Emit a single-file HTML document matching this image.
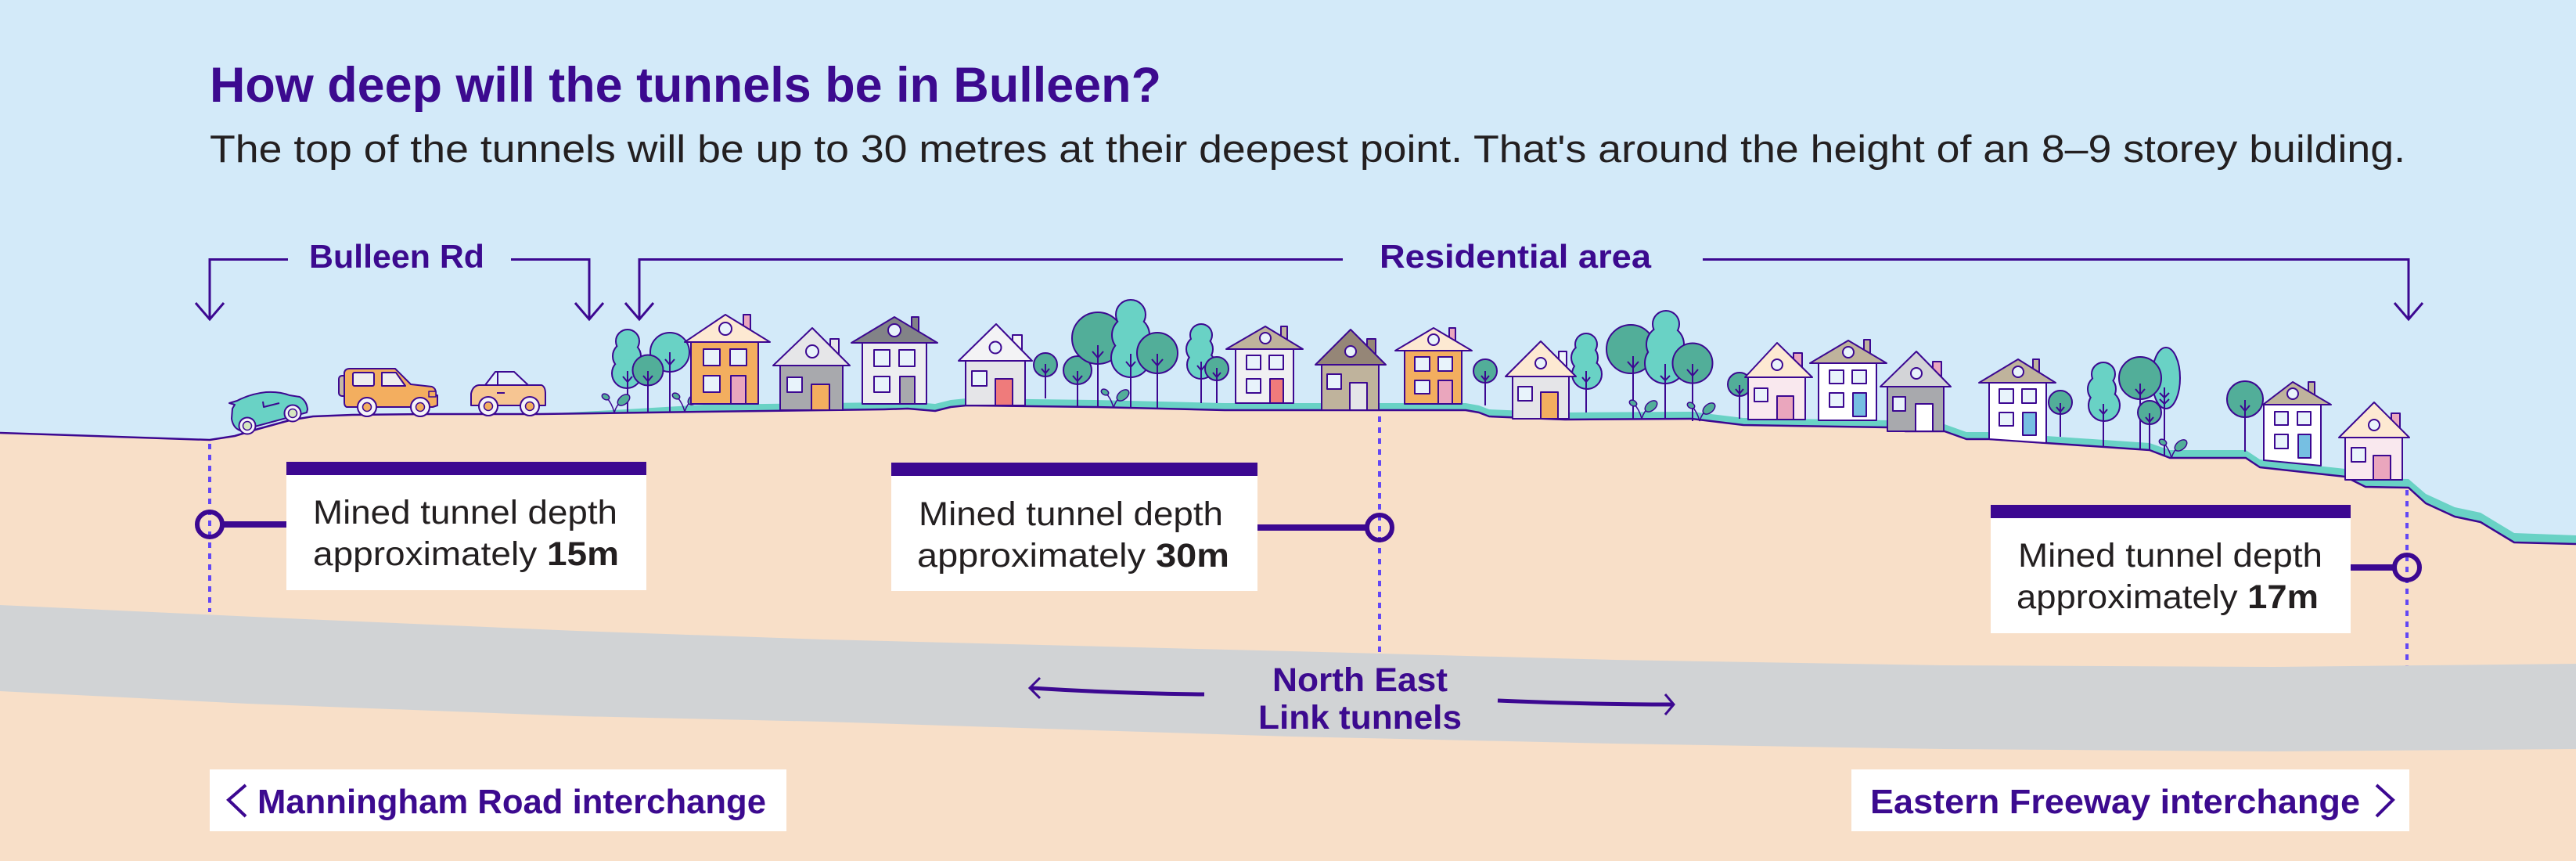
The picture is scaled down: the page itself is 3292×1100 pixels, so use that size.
<!DOCTYPE html>
<html>
<head>
<meta charset="utf-8">
<style>
html,body{margin:0;padding:0;background:#d3eaf9;}
svg{display:block;}
text{font-family:"Liberation Sans",Arial,sans-serif;}
</style>
</head>
<body>
<svg width="3292" height="1100" viewBox="0 0 3292 1100" xmlns="http://www.w3.org/2000/svg">
<!-- sky -->
<rect x="0" y="0" width="3292" height="1100" fill="#d3eaf9"/>

<!-- grass -->
<polygon fill="#69d2c5" points="690,529 800,523 900,517 1130,514 1160,513 1195,516 1215,511 1235,509 1400,511 1565,515 1873,515 1890,518 1903,523 1950,525 2000,527 2162,526 2228,534 2412,537 2435,542 2485,542 2513,552 2542,552 2615,557 2747,566 2773,575 2870,575 2888,587 2997,599 3023,611 3078,612 3100,631 3137,648 3170,655 3213,681 3292,684 3292,720 690,560"/>

<!-- ground -->
<polygon fill="#f8dfc8" points="0,553 268,562 300,557 330,548 370,537 400,532 450,530 550,529 690,529 900,526 1130,523 1160,522 1195,525 1215,520 1235,518 1400,520 1565,524 1873,524 1890,527 1903,532 1950,534 2000,536 2162,535 2228,543 2412,546 2435,551 2485,551 2513,561 2542,561 2615,566 2747,575 2773,585 2870,585 2888,597 2997,609 3023,622 3078,623 3100,643 3137,660 3170,667 3213,693 3292,695 3292,1100 0,1100"/>
<polyline fill="none" stroke="#3c0891" stroke-width="2.5" stroke-linejoin="round" points="0,553 268,562 300,557 330,548 370,537 400,532 450,530 550,529 690,529 900,526 1130,523 1160,522 1195,525 1215,520 1235,518 1400,520 1565,524 1873,524 1890,527 1903,532 1950,534 2000,536 2162,535 2228,543 2412,546 2435,551 2485,551 2513,561 2542,561 2615,566 2747,575 2773,585 2870,585 2888,597 2997,609 3023,622 3078,623 3100,643 3137,660 3170,667 3213,693 3292,695"/>

<!-- dashed depth lines -->
<g stroke="#6247f5" stroke-width="4" stroke-dasharray="7 7" fill="none">
<line x1="268" y1="567" x2="268" y2="782"/>
<line x1="1763" y1="532" x2="1763" y2="838"/>
<line x1="3076" y1="626" x2="3076" y2="852"/>
</g>

<!-- tunnel band -->
<polygon fill="#d1d3d5" points="0,773 368,790 737,806 1053,817 1650,832 2063,843 2484,850 2905,852 3292,848 3292,957 2905,960 2484,957 2063,950 1650,941 1053,922 737,915 316,899 0,883"/>

<!-- brackets -->
<g stroke="#3c0891" stroke-width="3" fill="none" stroke-linejoin="miter">
<polyline points="368,331.5 268,331.5 268,406"/>
<polyline points="250,387 268,408 286,387"/>
<polyline points="653,331.5 753,331.5 753,406"/>
<polyline points="735,387 753,408 771,387"/>
<polyline points="1716,331.5 817,331.5 817,406"/>
<polyline points="799,387 817,408 835,387"/>
<polyline points="2176,331.5 3078,331.5 3078,406"/>
<polyline points="3060,387 3078,408 3096,387"/>
</g>

<!-- text -->
<text x="268" y="130" font-size="63" font-weight="700" fill="#3c0a8f" textLength="1216" lengthAdjust="spacingAndGlyphs">How deep will the tunnels be in Bulleen?</text>
<text x="268" y="207" font-size="49" fill="#231f20" textLength="2806" lengthAdjust="spacingAndGlyphs">The top of the tunnels will be up to 30 metres at their deepest point. That's around the height of an 8–9 storey building.</text>
<text x="395" y="342" font-size="42" font-weight="700" fill="#3c0a8f" textLength="224" lengthAdjust="spacingAndGlyphs">Bulleen Rd</text>
<text x="1763" y="342" font-size="42" font-weight="700" fill="#3c0a8f" textLength="347" lengthAdjust="spacingAndGlyphs">Residential area</text>

<!-- cars -->
<g stroke="#3c0891" stroke-width="2" stroke-linejoin="round">
<!-- teal car -->
<path fill="#69d2c5" d="M293,515 L303,512 Q320,503 340,501 Q357,500 370,505 L383,507 Q392,512 393,523 L392,527 L307,550 Q298,547 296,535 L297,522 L300,517 Z"/>
<polyline fill="none" points="336,513 337,520 357,515"/>
<circle cx="316" cy="544" r="10.5" fill="#f5f3f8"/>
<circle cx="316" cy="544" r="5.5" fill="#d7e8c0" stroke-width="1.5"/>
<circle cx="374" cy="528" r="10.5" fill="#f5f3f8"/>
<circle cx="374" cy="528" r="5.5" fill="#d7e8c0" stroke-width="1.5"/>
<!-- orange suv -->
<rect x="433" y="480" width="10" height="26" rx="4" fill="#c6b8a4"/>
<path fill="#f3ae5f" d="M447,471 L505,471 L525,491 L552,494 Q557,496 557,502 L557,505 L559,505 L559,518 L553,520 L443,520 Q440,519 440,514 L440,476 Q441,471 447,471 Z"/>
<rect x="451" y="476" width="27" height="17" rx="2" fill="#eeeeef"/>
<polygon points="488,476 506,476 518,493 488,493" fill="#eeeeef"/>
<rect x="548" y="500" width="9" height="7" fill="#f3ae5f" stroke-width="1.5"/>
<circle cx="469" cy="520" r="12" fill="#f5f3f8"/>
<circle cx="469" cy="520" r="5.5" fill="#f3ae5f" stroke-width="1.5"/>
<circle cx="537" cy="520" r="12" fill="#f5f3f8"/>
<circle cx="537" cy="520" r="5.5" fill="#f3ae5f" stroke-width="1.5"/>
<!-- peach car -->
<polygon points="620,492 633,475 657,475 675,492" fill="#e3f0fa"/>
<line x1="636" y1="476" x2="636" y2="492"/>
<path fill="#f6c592" d="M602,518 L602,503 Q604,493 612,492 L692,492 Q697,494 697,503 L697,518 Z"/>
<line x1="635" y1="502" x2="645" y2="502"/>
<circle cx="624" cy="519" r="12" fill="#f5f3f8"/>
<circle cx="624" cy="519" r="5.5" fill="#f3ae5f" stroke-width="1.5"/>
<circle cx="677" cy="519" r="12" fill="#f5f3f8"/>
<circle cx="677" cy="519" r="5.5" fill="#f3ae5f" stroke-width="1.5"/>
</g>

<!-- trees -->
<g stroke="#3c0891" stroke-width="2" fill="none">
<!-- T1 bumpy teal -->
<g><circle cx="802" cy="436" r="14" fill="#69d2c5" stroke-width="4"/><circle cx="801" cy="455" r="17" fill="#69d2c5" stroke-width="4"/><circle cx="801" cy="477" r="18" fill="#69d2c5" stroke-width="4"/>
<circle cx="802" cy="436" r="14" fill="#69d2c5" stroke="none"/><circle cx="801" cy="455" r="17" fill="#69d2c5" stroke="none"/><circle cx="801" cy="477" r="18" fill="#69d2c5" stroke="none"/></g>
<line x1="802" y1="474" x2="802" y2="527"/><polyline points="796,481 802,488 808,481"/>
<!-- T3 -->
<circle cx="856" cy="450" r="25" fill="#69d2c5"/>
<line x1="856" y1="450" x2="856" y2="526"/><polyline points="850,459 856,466 862,459"/>
<!-- T2 -->
<circle cx="828" cy="473" r="19.5" fill="#52ae99"/>
<line x1="828" y1="474" x2="828" y2="526"/><polyline points="822,480 828,487 834,480"/>

<!-- T4..T10 -->
<circle cx="1336" cy="466" r="15" fill="#52ae99"/>
<line x1="1336" y1="465" x2="1336" y2="509"/><polyline points="1331,471 1336,477 1341,471"/>
<circle cx="1377" cy="473" r="18" fill="#52ae99"/>
<line x1="1377" y1="474" x2="1377" y2="520"/><polyline points="1371,480 1377,487 1383,480"/>
<circle cx="1403" cy="432" r="33" fill="#52ae99"/>
<line x1="1403" y1="441" x2="1403" y2="520"/><polyline points="1396,449 1403,457 1410,449"/>
<g><circle cx="1445" cy="402" r="18" fill="#69d2c5" stroke-width="4"/><circle cx="1445" cy="428" r="23" fill="#69d2c5" stroke-width="4"/><circle cx="1445" cy="457" r="24" fill="#69d2c5" stroke-width="4"/>
<circle cx="1445" cy="402" r="18" fill="#69d2c5" stroke="none"/><circle cx="1445" cy="428" r="23" fill="#69d2c5" stroke="none"/><circle cx="1445" cy="457" r="24" fill="#69d2c5" stroke="none"/></g>
<line x1="1445" y1="452" x2="1445" y2="521"/><polyline points="1439,462 1445,469 1451,462"/>
<circle cx="1479" cy="451" r="26" fill="#52ae99"/>
<line x1="1479" y1="452" x2="1479" y2="523"/><polyline points="1472,459 1479,467 1486,459"/>
<g><circle cx="1535" cy="428" r="13" fill="#69d2c5" stroke-width="4"/><circle cx="1533" cy="446" r="16" fill="#69d2c5" stroke-width="4"/><circle cx="1535" cy="466" r="17" fill="#69d2c5" stroke-width="4"/>
<circle cx="1535" cy="428" r="13" fill="#69d2c5" stroke="none"/><circle cx="1533" cy="446" r="16" fill="#69d2c5" stroke="none"/><circle cx="1535" cy="466" r="17" fill="#69d2c5" stroke="none"/></g>
<line x1="1535" y1="462" x2="1535" y2="515"/><polyline points="1530,467 1535,473 1540,467"/>
<circle cx="1555" cy="471" r="15" fill="#52ae99"/>
<line x1="1555" y1="470" x2="1555" y2="515"/><polyline points="1550,476 1555,482 1560,476"/>

<!-- T11 -->
<circle cx="1898" cy="474" r="15" fill="#52ae99"/>
<line x1="1898" y1="474" x2="1898" y2="518"/><polyline points="1893,480 1898,486 1903,480"/>

<!-- T12..T16 -->
<g><circle cx="2027" cy="440" r="13" fill="#69d2c5" stroke-width="4"/><circle cx="2025" cy="457" r="16" fill="#69d2c5" stroke-width="4"/><circle cx="2028" cy="478" r="18" fill="#69d2c5" stroke-width="4"/>
<circle cx="2027" cy="440" r="13" fill="#69d2c5" stroke="none"/><circle cx="2025" cy="457" r="16" fill="#69d2c5" stroke="none"/><circle cx="2028" cy="478" r="18" fill="#69d2c5" stroke="none"/></g>
<line x1="2027" y1="474" x2="2027" y2="527"/><polyline points="2022,482 2027,488 2032,482"/>
<circle cx="2084" cy="446" r="31" fill="#52ae99"/>
<line x1="2087" y1="455" x2="2087" y2="535"/><polyline points="2080,462 2087,470 2094,462"/>
<g><circle cx="2129" cy="414" r="16" fill="#69d2c5" stroke-width="4"/><circle cx="2128" cy="440" r="23" fill="#69d2c5" stroke-width="4"/><circle cx="2128" cy="464" r="25" fill="#69d2c5" stroke-width="4"/>
<circle cx="2129" cy="414" r="16" fill="#69d2c5" stroke="none"/><circle cx="2128" cy="440" r="23" fill="#69d2c5" stroke="none"/><circle cx="2128" cy="464" r="25" fill="#69d2c5" stroke="none"/></g>
<line x1="2128" y1="465" x2="2128" y2="536"/><polyline points="2122,480 2128,486 2134,480"/>
<circle cx="2163" cy="464" r="25.5" fill="#52ae99"/>
<line x1="2163" y1="465" x2="2163" y2="538"/><polyline points="2156,472 2163,480 2170,472"/>
<circle cx="2223" cy="491" r="15" fill="#52ae99"/>
<line x1="2223" y1="492" x2="2223" y2="535"/><polyline points="2218,497 2223,503 2228,497"/>

<!-- T17..T22 -->
<circle cx="2633" cy="514" r="15" fill="#52ae99"/>
<line x1="2633" y1="515" x2="2633" y2="558"/><polyline points="2628,520 2633,526 2638,520"/>
<g><circle cx="2688" cy="478" r="14" fill="#69d2c5" stroke-width="4"/><circle cx="2686" cy="497" r="17" fill="#69d2c5" stroke-width="4"/><circle cx="2689" cy="518" r="19" fill="#69d2c5" stroke-width="4"/>
<circle cx="2688" cy="478" r="14" fill="#69d2c5" stroke="none"/><circle cx="2686" cy="497" r="17" fill="#69d2c5" stroke="none"/><circle cx="2689" cy="518" r="19" fill="#69d2c5" stroke="none"/></g>
<line x1="2688" y1="516" x2="2688" y2="571"/><polyline points="2683,523 2688,529 2693,523"/>
<ellipse cx="2768" cy="483" rx="18" ry="39" fill="#69d2c5"/>
<line x1="2766" y1="495" x2="2766" y2="583"/><polyline points="2760,502 2766,508 2772,502"/><polyline points="2760,510 2766,516 2772,510"/>
<circle cx="2735" cy="483" r="27" fill="#52ae99"/>
<line x1="2735" y1="490" x2="2735" y2="574"/><polyline points="2729,497 2735,504 2741,497"/>
<circle cx="2747" cy="527" r="15" fill="#52ae99"/>
<line x1="2747" y1="528" x2="2747" y2="575"/><polyline points="2742,533 2747,539 2752,533"/>
<circle cx="2869" cy="510" r="23" fill="#52ae99"/>
<line x1="2869" y1="511" x2="2869" y2="577"/><polyline points="2863,518 2869,525 2875,518"/>
</g>

<!-- sprouts -->
<g stroke="#3c0891" stroke-width="1.5" fill="#52ae99">
<g transform="translate(785,527)"><path fill="none" d="M0,0 Q-3,-12 -10,-19 M0,0 Q3,-10 9,-14"/><ellipse cx="-11" cy="-20" rx="5" ry="3.5" transform="rotate(30 -11 -20)"/><ellipse cx="12" cy="-16" rx="9" ry="5.5" transform="rotate(-40 12 -16)"/></g>
<g transform="translate(875,526)"><path fill="none" d="M0,0 Q-3,-12 -10,-19 M0,0 Q3,-10 9,-14"/><ellipse cx="-11" cy="-20" rx="5" ry="3.5" transform="rotate(30 -11 -20)"/><ellipse cx="12" cy="-16" rx="9" ry="5.5" transform="rotate(-40 12 -16)"/></g>
<g transform="translate(1423,521)"><path fill="none" d="M0,0 Q-3,-12 -10,-19 M0,0 Q3,-10 9,-14"/><ellipse cx="-11" cy="-20" rx="5" ry="3.5" transform="rotate(30 -11 -20)"/><ellipse cx="12" cy="-16" rx="9" ry="5.5" transform="rotate(-40 12 -16)"/></g>
<g transform="translate(2098,535)"><path fill="none" d="M0,0 Q-3,-12 -10,-19 M0,0 Q3,-10 9,-14"/><ellipse cx="-11" cy="-20" rx="5" ry="3.5" transform="rotate(30 -11 -20)"/><ellipse cx="12" cy="-16" rx="9" ry="5.5" transform="rotate(-40 12 -16)"/></g>
<g transform="translate(2172,538)"><path fill="none" d="M0,0 Q-3,-12 -10,-19 M0,0 Q3,-10 9,-14"/><ellipse cx="-11" cy="-20" rx="5" ry="3.5" transform="rotate(30 -11 -20)"/><ellipse cx="12" cy="-16" rx="9" ry="5.5" transform="rotate(-40 12 -16)"/></g>
<g transform="translate(2775,585)"><path fill="none" d="M0,0 Q-3,-12 -10,-19 M0,0 Q3,-10 9,-14"/><ellipse cx="-11" cy="-20" rx="5" ry="3.5" transform="rotate(30 -11 -20)"/><ellipse cx="12" cy="-16" rx="9" ry="5.5" transform="rotate(-40 12 -16)"/></g>
</g>

<!-- houses -->
<g stroke="#3c0891" stroke-width="2" stroke-linejoin="round">
<!-- H1 -->
<rect x="950" y="402" width="9" height="24" fill="#eaa6bd"/>
<polygon points="875,437 927,402 984,437" fill="#fde9d2"/>
<circle cx="927" cy="420" r="8" fill="#e8f3fb"/>
<rect x="883" y="437" width="86" height="79" fill="#f3ae5f"/>
<rect x="899" y="446" width="21" height="21" fill="#e8f3fb"/><rect x="933" y="446" width="21" height="21" fill="#e8f3fb"/><rect x="899" y="480" width="21" height="21" fill="#e8f3fb"/>
<rect x="934" y="480" width="19" height="36" fill="#eaa6bd"/>
<!-- H2 -->
<rect x="1061" y="433" width="11" height="24" fill="#e6e6e8"/>
<polygon points="988,467 1038,419 1086,467" fill="#e6e6e8"/>
<circle cx="1038" cy="449" r="8" fill="#e8f3fb"/>
<rect x="997" y="467" width="80" height="57" fill="#a8a9ad"/>
<rect x="1006" y="482" width="19" height="19" fill="#e8f3fb"/>
<rect x="1037" y="491" width="23" height="33" fill="#f3ae5f"/>
<!-- H3 -->
<rect x="1165" y="405" width="9" height="24" fill="#828387"/>
<polygon points="1088,438 1143,405 1198,438" fill="#828387"/>
<circle cx="1143" cy="422" r="8" fill="#e8f3fb"/>
<rect x="1102" y="438" width="82" height="78" fill="#ededf0"/>
<rect x="1117" y="447" width="20" height="21" fill="#e8f3fb"/><rect x="1149" y="447" width="20" height="21" fill="#e8f3fb"/><rect x="1117" y="481" width="20" height="20" fill="#e8f3fb"/>
<rect x="1150" y="481" width="19" height="35" fill="#a8a9ad"/>
<!-- H4 -->
<rect x="1294" y="428" width="12" height="24" fill="#f3f3f5"/>
<polygon points="1225,461 1273,414 1319,461" fill="#f3f3f5"/>
<circle cx="1272" cy="444" r="7.5" fill="#e8f3fb"/>
<rect x="1234" y="461" width="76" height="57" fill="#e5e5e8"/>
<rect x="1242" y="474" width="19" height="19" fill="#e8f3fb"/>
<rect x="1272" y="484" width="22" height="34" fill="#ef7b7b"/>
<!-- H5 -->
<rect x="1637" y="417" width="8" height="20" fill="#bfb39c"/>
<polygon points="1567,446 1617,417 1665,446" fill="#bfb39c"/>
<circle cx="1617" cy="432" r="7" fill="#e8f3fb"/>
<rect x="1579" y="446" width="74" height="69" fill="#f0f0f2"/>
<rect x="1593" y="454" width="18" height="18" fill="#e8f3fb"/><rect x="1622" y="454" width="18" height="18" fill="#e8f3fb"/><rect x="1593" y="484" width="18" height="18" fill="#e8f3fb"/>
<rect x="1623" y="484" width="17" height="31" fill="#ef7b7b"/>
<!-- H6 -->
<rect x="1747" y="433" width="11" height="24" fill="#958677"/>
<polygon points="1681,466 1726,421 1771,466" fill="#958677"/>
<circle cx="1726" cy="449" r="7" fill="#e8f3fb"/>
<rect x="1689" y="466" width="73" height="58" fill="#bfb39c"/>
<rect x="1696" y="478" width="18" height="19" fill="#e8f3fb"/>
<rect x="1725" y="489" width="22" height="35" fill="#e5e5e8"/>
<!-- H7 -->
<rect x="1852" y="419" width="8" height="20" fill="#eaa6bd"/>
<polygon points="1783,448 1832,419 1881,448" fill="#fde9d2"/>
<circle cx="1832" cy="434" r="7" fill="#e8f3fb"/>
<rect x="1795" y="448" width="73" height="68" fill="#f3ae5f"/>
<rect x="1808" y="456" width="19" height="18" fill="#e8f3fb"/><rect x="1838" y="456" width="18" height="18" fill="#e8f3fb"/><rect x="1808" y="486" width="19" height="17" fill="#e8f3fb"/>
<rect x="1838" y="486" width="18" height="30" fill="#eaa6bd"/>
<!-- H8 -->
<rect x="1992" y="449" width="10" height="22" fill="#eef5fb"/>
<polygon points="1924,481 1969,436 2014,481" fill="#fde9d2"/>
<circle cx="1969" cy="464" r="7" fill="#e8f3fb"/>
<rect x="1933" y="481" width="72" height="54" fill="#e5e5e8"/>
<rect x="1940" y="494" width="18" height="18" fill="#e8f3fb"/>
<rect x="1969" y="501" width="22" height="34" fill="#f3ae5f"/>
<!-- H9 -->
<rect x="2292" y="451" width="11" height="22" fill="#eaa6bd"/>
<polygon points="2230,482 2271,438 2316,482" fill="#fde9d2"/>
<circle cx="2271" cy="466" r="7" fill="#e8f3fb"/>
<rect x="2234" y="482" width="73" height="54" fill="#f9e8ee"/>
<rect x="2242" y="496" width="17" height="17" fill="#e8f3fb"/>
<rect x="2271" y="506" width="21" height="30" fill="#eaa6bd"/>
<!-- H10 -->
<rect x="2382" y="434" width="8" height="20" fill="#bfb39c"/>
<polygon points="2313,464 2362,435 2411,464" fill="#bfb39c"/>
<circle cx="2362" cy="450" r="7" fill="#e8f3fb"/>
<rect x="2324" y="464" width="74" height="73" fill="#ffffff"/>
<rect x="2338" y="473" width="18" height="17" fill="#e8f3fb"/><rect x="2367" y="473" width="18" height="17" fill="#e8f3fb"/><rect x="2338" y="502" width="18" height="18" fill="#e8f3fb"/>
<rect x="2368" y="502" width="17" height="30" fill="#76bfe2"/>
<!-- H11 -->
<rect x="2470" y="462" width="11" height="22" fill="#eaa6bd"/>
<polygon points="2403,494 2449,449 2493,494" fill="#d3d4d7"/>
<circle cx="2449" cy="477" r="7" fill="#e8f3fb"/>
<rect x="2412" y="494" width="72" height="57" fill="#a8a9ad"/>
<rect x="2419" y="507" width="16" height="18" fill="#e8f3fb"/>
<rect x="2448" y="516" width="22" height="35" fill="#ffffff"/>
<!-- H12 -->
<rect x="2598" y="459" width="8" height="19" fill="#bfb39c"/>
<polygon points="2529,489 2579,459 2627,489" fill="#bfb39c"/>
<circle cx="2579" cy="475" r="7" fill="#e8f3fb"/>
<polygon points="2542,489 2615,489 2615,566 2542,561" fill="#ffffff"/>
<rect x="2555" y="497" width="18" height="18" fill="#e8f3fb"/><rect x="2584" y="497" width="18" height="18" fill="#e8f3fb"/><rect x="2555" y="527" width="18" height="17" fill="#e8f3fb"/>
<rect x="2585" y="527" width="17" height="29" fill="#76bfe2"/>
<!-- H13 -->
<rect x="2950" y="488" width="8" height="19" fill="#bfb39c"/>
<polygon points="2892,517 2930,488 2979,517" fill="#bfb39c"/>
<circle cx="2930" cy="503" r="7" fill="#e8f3fb"/>
<polygon points="2893,517 2966,517 2966,595 2893,588" fill="#ffffff"/>
<rect x="2907" y="526" width="17" height="17" fill="#e8f3fb"/><rect x="2936" y="526" width="17" height="17" fill="#e8f3fb"/><rect x="2907" y="555" width="17" height="18" fill="#e8f3fb"/>
<rect x="2937" y="555" width="16" height="30" fill="#76bfe2"/>
<!-- H14 -->
<rect x="3056" y="528" width="11" height="22" fill="#eaa6bd"/>
<polygon points="2989,559 3034,514 3079,559" fill="#fde9d2"/>
<circle cx="3034" cy="543" r="7" fill="#e8f3fb"/>
<rect x="2997" y="559" width="73" height="54" fill="#f9e8ee"/>
<rect x="3005" y="572" width="18" height="18" fill="#e8f3fb"/>
<rect x="3033" y="582" width="22" height="31" fill="#eaa6bd"/>
</g>

<!-- connectors & markers -->
<g stroke="#3c0891" fill="none">
<line x1="286" y1="670" x2="366" y2="670" stroke-width="8"/>
<circle cx="268" cy="670" r="16" stroke-width="6"/>
<line x1="1607" y1="674" x2="1746" y2="674" stroke-width="8"/>
<circle cx="1763" cy="674" r="16" stroke-width="6"/>
<line x1="3004" y1="725" x2="3059" y2="725" stroke-width="8"/>
<circle cx="3076" cy="725" r="16" stroke-width="6"/>
</g>

<!-- depth boxes -->
<rect x="366" y="590" width="460" height="17" fill="#3c0891"/>
<rect x="366" y="607" width="460" height="147" fill="#ffffff"/>
<text x="400" y="669" font-size="43" fill="#231f20" textLength="389" lengthAdjust="spacingAndGlyphs">Mined tunnel depth</text>
<text x="400" y="722" font-size="43" fill="#231f20" textLength="391" lengthAdjust="spacingAndGlyphs">approximately <tspan font-weight="700">15m</tspan></text>

<rect x="1139" y="591" width="468" height="17" fill="#3c0891"/>
<rect x="1139" y="608" width="468" height="147" fill="#ffffff"/>
<text x="1174" y="671" font-size="43" fill="#231f20" textLength="389" lengthAdjust="spacingAndGlyphs">Mined tunnel depth</text>
<text x="1172" y="724" font-size="43" fill="#231f20" textLength="399" lengthAdjust="spacingAndGlyphs">approximately <tspan font-weight="700">30m</tspan></text>

<rect x="2544" y="645" width="460" height="17" fill="#3c0891"/>
<rect x="2544" y="662" width="460" height="147" fill="#ffffff"/>
<text x="2579" y="724" font-size="43" fill="#231f20" textLength="389" lengthAdjust="spacingAndGlyphs">Mined tunnel depth</text>
<text x="2577" y="777" font-size="43" fill="#231f20" textLength="386" lengthAdjust="spacingAndGlyphs">approximately <tspan font-weight="700">17m</tspan></text>

<!-- tunnel label & arrows -->
<text x="1626" y="883" font-size="43" font-weight="700" fill="#3c0a8f" textLength="224" lengthAdjust="spacingAndGlyphs">North East</text>
<text x="1608" y="931" font-size="43" font-weight="700" fill="#3c0a8f" textLength="260" lengthAdjust="spacingAndGlyphs">Link tunnels</text>
<g stroke="#3c0891" fill="none">
<path d="M1539,887 Q1430,886 1318,879" stroke-width="5"/>
<polyline points="1329,866 1316,879 1329,892" stroke-width="3"/>
<path d="M1914,895 Q2030,900 2137,900" stroke-width="5"/>
<polyline points="2128,887 2139,900 2128,913" stroke-width="3"/>
</g>

<!-- interchange labels -->
<rect x="268" y="983" width="737" height="79" fill="#ffffff"/>
<polyline points="314,1003 292,1022 314,1043" fill="none" stroke="#3c0891" stroke-width="4"/>
<text x="329" y="1039" font-size="44" font-weight="700" fill="#3c0a8f" textLength="650" lengthAdjust="spacingAndGlyphs">Manningham Road interchange</text>

<rect x="2366" y="983" width="713" height="79" fill="#ffffff"/>
<text x="2390" y="1039" font-size="44" font-weight="700" fill="#3c0a8f" textLength="626" lengthAdjust="spacingAndGlyphs">Eastern Freeway interchange</text>
<polyline points="3037,1003 3058,1022 3037,1043" fill="none" stroke="#3c0891" stroke-width="4"/>
</svg>
</body>
</html>
